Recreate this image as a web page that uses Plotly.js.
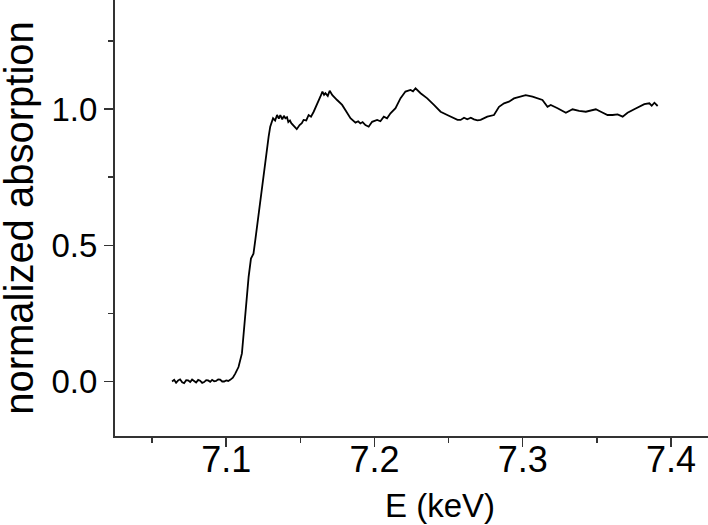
<!DOCTYPE html>
<html>
<head>
<meta charset="utf-8">
<script src="https://cdn.plot.ly/plotly-3.0.1.min.js"></script>
<style>
  html, body { margin: 0; padding: 0; overflow: hidden; background: #fff; }
  #chart { width: 768px; height: 525px; margin-left: -3px; }
</style>
</head>
<body>
<div id="chart"></div>
<script>
// XANES spectrum, energy in keV
var energy = [
  7.0635, 7.0649, 7.0662, 7.0676, 7.0689, 7.0703, 7.0716, 7.0730, 7.0743, 7.0757,
  7.0770, 7.0784, 7.0797, 7.0811, 7.0824, 7.0838, 7.0851, 7.0865, 7.0878, 7.0892,
  7.0905, 7.0919, 7.0932, 7.0946, 7.0959, 7.0973, 7.0986, 7.1000, 7.1014,
  7.1027, 7.1045, 7.1061, 7.1083, 7.1106, 7.1122, 7.1135, 7.1151, 7.1167, 7.1184,
  7.1196, 7.1211, 7.1230, 7.1248, 7.1270, 7.1286, 7.1297, 7.1316, 7.1330, 7.1343,
  7.1355, 7.1365, 7.1378, 7.1389, 7.1399, 7.1410, 7.1419, 7.1430, 7.1439, 7.1459,
  7.1476, 7.1495, 7.1510, 7.1522, 7.1540, 7.1556, 7.1572, 7.1590, 7.1613, 7.1635,
  7.1649, 7.1660, 7.1669, 7.1685, 7.1698, 7.1716, 7.1748, 7.1782, 7.1811, 7.1838,
  7.1872, 7.1890, 7.1905, 7.1920, 7.1939, 7.1961, 7.1984, 7.2018, 7.2040, 7.2063,
  7.2085, 7.2108, 7.2142, 7.2176, 7.2209, 7.2243, 7.2260, 7.2277, 7.2311, 7.2356,
  7.2401, 7.2446, 7.2491, 7.2536, 7.2560, 7.2581, 7.2604, 7.2626, 7.2650, 7.2671,
  7.2695, 7.2716, 7.2740, 7.2761, 7.2806, 7.2840, 7.2874, 7.2907, 7.2941, 7.2975,
  7.3020, 7.3066, 7.3099, 7.3133, 7.3167, 7.3189, 7.3235, 7.3291, 7.3336, 7.3380,
  7.3426, 7.3459, 7.3493, 7.3527, 7.3572, 7.3606, 7.3640, 7.3674, 7.3707, 7.3752,
  7.3786, 7.3820, 7.3854, 7.3870, 7.3888, 7.3900, 7.3910
];
var absorption = [
  0.000, 0.006, -0.005, 0.004, 0.008, -0.003, -0.006, 0.005, 0.004, -0.002,
  0.007, 0.001, -0.004, 0.006, 0.003, -0.005, -0.002, 0.005, 0.004, -0.001,
  0.006, 0.001, 0.002, 0.008, 0.007, 0.000, 0.000, 0.004, 0.002,
  0.006, 0.014, 0.029, 0.053, 0.103, 0.200, 0.298, 0.383, 0.451, 0.469,
  0.518, 0.581, 0.665, 0.751, 0.849, 0.898, 0.935, 0.966, 0.958, 0.978,
  0.965, 0.978, 0.962, 0.975, 0.966, 0.970, 0.952, 0.958, 0.948, 0.938,
  0.926, 0.941, 0.948, 0.960, 0.958, 0.978, 0.972, 0.990, 1.015, 1.045,
  1.064, 1.052, 1.058, 1.048, 1.067, 1.051, 1.033, 1.015, 0.990, 0.966,
  0.950, 0.955, 0.947, 0.952, 0.941, 0.935, 0.953, 0.960, 0.955, 0.972,
  0.966, 0.984, 1.003, 1.040, 1.064, 1.070, 1.065, 1.076, 1.058, 1.039,
  1.015, 0.990, 0.978, 0.966, 0.960, 0.960, 0.968, 0.962, 0.968, 0.962,
  0.958, 0.960, 0.966, 0.972, 0.978, 1.008, 1.021, 1.027, 1.039, 1.045,
  1.051, 1.045, 1.039, 1.033, 1.008, 1.015, 1.003, 0.986, 0.999, 0.993,
  0.990, 0.994, 0.999, 0.990, 0.978, 0.978, 0.980, 0.972, 0.986, 0.999,
  1.008, 1.018, 1.021, 1.012, 1.023, 1.016, 1.011
];

var xTickVals = [7.1, 7.2, 7.3, 7.4];
var yTickVals = [0.0, 0.5, 1.0];

var font = '"Liberation Sans", Arial, sans-serif';

var data = [{
  x: energy,
  y: absorption,
  type: 'scatter',
  mode: 'lines',
  line: { color: '#000', width: 1.8 },
  hoverinfo: 'skip'
}];

var layout = {
  width: 768,
  height: 525,
  margin: { l: 118, r: 0, t: 0, b: 89 },
  paper_bgcolor: '#fff',
  plot_bgcolor: '#fff',
  showlegend: false,
  font: { family: font, color: '#000' },
  xaxis: {
    range: [7.025, 7.4634],
    tickvals: xTickVals,
    ticktext: xTickVals.map(function (v) { return v.toFixed(1); }),
    ticks: 'outside', ticklen: 9, tickwidth: 1.5, tickcolor: '#333',
    ticklabelstandoff: -18,
    minor: { ticks: 'outside', ticklen: 5, tickwidth: 1.5, tickcolor: '#333', dtick: 0.05, tick0: 7.0 },
    showline: true, linecolor: '#333', linewidth: 2,
    showgrid: false, zeroline: false,
    tickfont: { family: font, size: 36, color: '#000' },
    title: { text: 'E (keV)', font: { family: font, size: 33, color: '#000' }, standoff: 15 }
  },
  yaxis: {
    range: [-0.2, 1.4],
    tickvals: yTickVals,
    ticktext: yTickVals.map(function (v) { return v.toFixed(1); }),
    ticks: 'outside', ticklen: 9, tickwidth: 1.5, tickcolor: '#333',
    minor: { ticks: 'outside', ticklen: 5, tickwidth: 1.5, tickcolor: '#333', dtick: 0.25, tick0: 0 },
    showline: true, linecolor: '#333', linewidth: 2,
    showgrid: false, zeroline: false,
    tickfont: { family: font, size: 33, color: '#000' },
    title: { text: 'normalized absorption', font: { family: font, size: 40, color: '#000' }, standoff: 22 }
  }
};

Plotly.newPlot('chart', data, layout, { staticPlot: true, displayModeBar: false });
</script>
</body>
</html>
